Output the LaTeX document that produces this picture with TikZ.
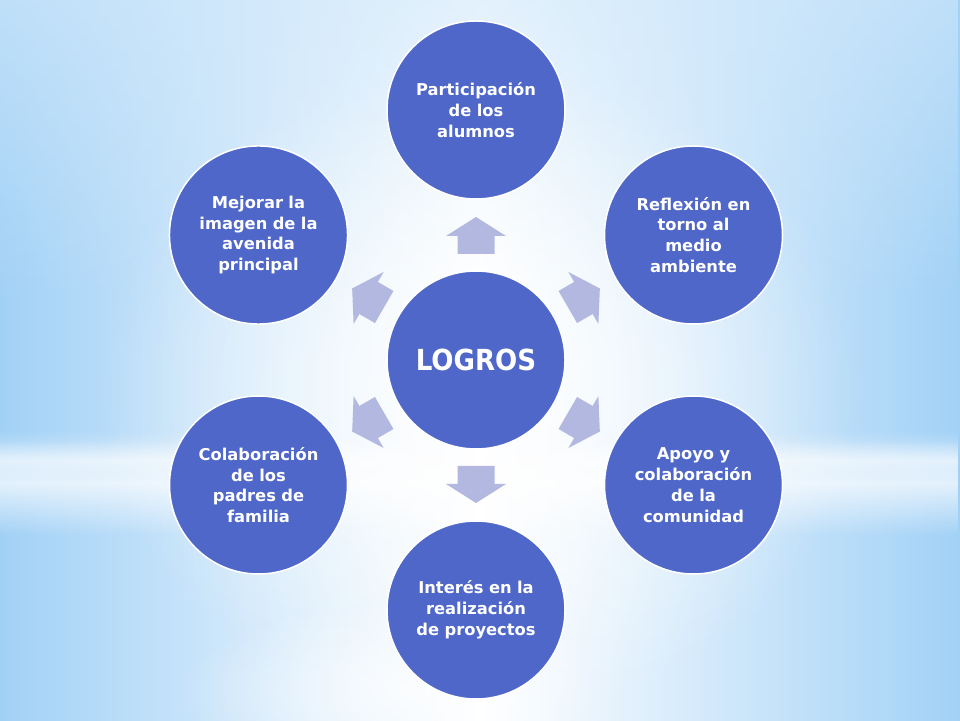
\documentclass[tikz,border=0pt]{standalone}
\usepackage{fontspec}
\setmainfont{DejaVu Sans}
\newfontfamily\hubfont{DejaVu Sans Condensed}
\usetikzlibrary{fadings}
\definecolor{circfill}{HTML}{4F67C8}
\definecolor{arrfill}{HTML}{B3B8E1}
\definecolor{bgblue}{HTML}{A2D1F6}
\definecolor{bgpale}{HTML}{D2E9FB}
\tikzfading[name=midband, top color=transparent!100, bottom color=transparent!100, middle color=transparent!0]
\tikzfading[name=glow, inner color=transparent!0, outer color=transparent!100]
\tikzset{
  bubble/.style={circle, fill=circfill, draw=white, line width=1.5pt, minimum size=178pt, inner sep=0pt,
    text=white, align=center, text width=160pt, font=\bfseries\fontsize{16.3}{20.8}\selectfont},
  hub/.style={bubble, font=\hubfont\bfseries\fontsize{29}{34}\selectfont},
  blockarrow/.style={fill=arrfill, draw=none}
}
\begin{document}
\begin{tikzpicture}[x=1pt,y=1pt]
  % background
  \useasboundingbox (0,0) rectangle (960,720);
  \begin{scope}
    \clip (0,0) rectangle (960,720);
    \shade[left color=bgblue, right color=bgblue, middle color=white] (0,0) rectangle (960,720);
    \fill[bgpale, path fading=south, opacity=0.6] (0,420) rectangle (960,720);
    \fill[white, path fading=glow, opacity=0.9] (480,330) ellipse (380 and 330);
    \fill[white, path fading=midband, opacity=0.7] (0,185) rectangle (960,290);
    \fill[white, path fading=midband, opacity=0.5] (0,240) rectangle (960,280);
    \fill[white, path fading=glow, opacity=0.7] (400,30) ellipse (220 and 90);
  \end{scope}
  % arrows
  \foreach \a in {90,30,-30,-90,-150,150}{
    \fill[blockarrow, shift={(476,360)}, rotate=\a]
      (106,-18.5) -- (124,-18.5) -- (124,-30) -- (143,0) -- (124,30) -- (124,18.5) -- (106,18.5) -- cycle;
  }
  % circles
  \node[hub] (c) at (476,360) {LOGROS};
  \node[bubble] (n1) at (476,610) {Participación\\de los\\alumnos};
  \node[bubble] (n2) at (693.5,485) {Reflexión en\\torno al\\medio\\ambiente};
  \node[bubble] (n3) at (693.5,235) {Apoyo y\\colaboración\\de la\\comunidad};
  \node[bubble] (n4) at (476,110) {Interés en la\\realización\\de proyectos};
  \node[bubble] (n5) at (258.5,235) {Colaboración\\de los\\padres de\\familia};
  \node[bubble] (n6) at (258.5,485) {Mejorar la\\imagen de la\\avenida\\principal};
\end{tikzpicture}
\end{document}
